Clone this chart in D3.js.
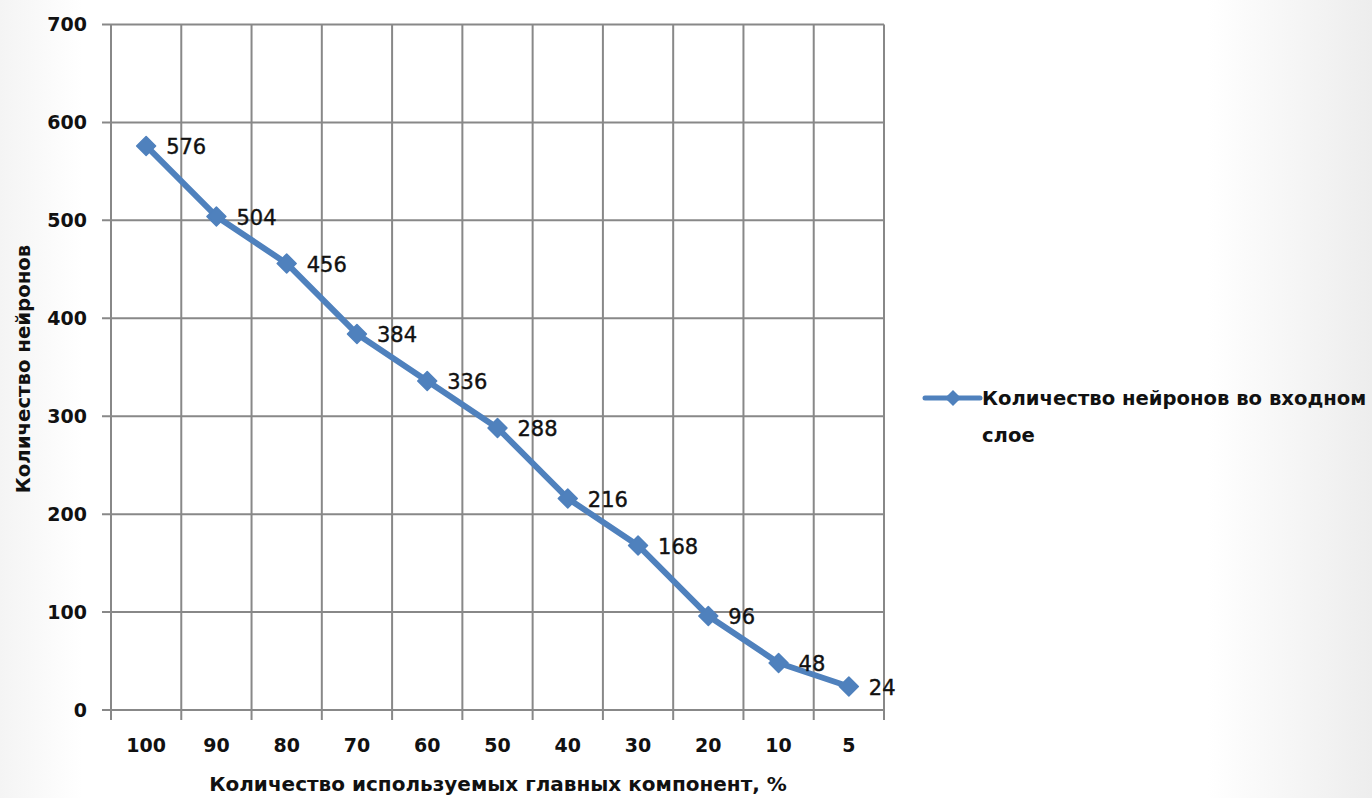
<!DOCTYPE html>
<html>
<head>
<meta charset="utf-8">
<script src="https://cdn.jsdelivr.net/npm/d3@7"></script>
<style>
  html, body { margin: 0; padding: 0; }
  body { width: 1372px; height: 798px; overflow: hidden; }
  svg { display: block; }
</style>
</head>
<body>
<svg id="chart" width="1372" height="798"></svg>
<script>
// Share of principal components used, % (category axis)
const categories = ["100", "90", "80", "70", "60", "50", "40", "30", "20", "10", "5"];
// Neurons in the input layer for each share
const neurons = [576, 504, 456, 384, 336, 288, 216, 168, 96, 48, 24];
const yTicks = [0, 100, 200, 300, 400, 500, 600, 700];
const seriesName = ["Количество нейронов во входном", "слое"];
const xTitle = "Количество используемых главных компонент, %";
const yTitle = "Количество нейронов";

const W = 1372, H = 798;
const plot = { left: 111, right: 884, top: 24.5, bottom: 710 };
const lineColor = "#4f81bd";
const gridColor = "#888888";
const font = "'DejaVu Sans', 'Open Sans', sans-serif";

const svg = d3.select("#chart");

// soft page background
const defs = svg.append("defs");
const bg = defs.append("linearGradient").attr("id", "bg").attr("x1", 0).attr("x2", 1).attr("y1", 0).attr("y2", 0);
bg.append("stop").attr("offset", "0").attr("stop-color", "#f4f4f4");
bg.append("stop").attr("offset", "0.06").attr("stop-color", "#ffffff");
bg.append("stop").attr("offset", "0.88").attr("stop-color", "#ffffff");
bg.append("stop").attr("offset", "1").attr("stop-color", "#ededed");
svg.append("rect").attr("width", W).attr("height", H).attr("fill", "url(#bg)");

const x = d3.scaleBand().domain(categories).range([plot.left, plot.right]).paddingInner(0).paddingOuter(0);
const y = d3.scaleLinear().domain([0, 700]).range([plot.bottom, plot.top]);

// horizontal gridlines with small ticks on the left
svg.append("g").selectAll("line").data(yTicks).join("line")
  .attr("x1", plot.left - 9).attr("x2", plot.right)
  .attr("y1", d => y(d)).attr("y2", d => y(d))
  .attr("stroke", gridColor).attr("stroke-width", 2);

// vertical gridlines at category boundaries, extending below the axis as ticks
const bounds = categories.map(c => x(c)).concat([plot.right]);
svg.append("g").selectAll("line").data(bounds).join("line")
  .attr("x1", d => d).attr("x2", d => d)
  .attr("y1", plot.top).attr("y2", plot.bottom + 10)
  .attr("stroke", gridColor).attr("stroke-width", 2);

// y tick labels
svg.append("g").selectAll("text").data(yTicks).join("text")
  .attr("x", 87).attr("y", d => y(d))
  .attr("dy", "0.35em").attr("text-anchor", "end")
  .attr("font-family", font).attr("font-weight", "bold").attr("font-size", 19)
  .attr("fill", "#111").text(d => d);

// x tick labels
svg.append("g").selectAll("text").data(categories).join("text")
  .attr("x", d => x(d) + x.bandwidth() / 2).attr("y", 745)
  .attr("dy", "0.35em").attr("text-anchor", "middle")
  .attr("font-family", font).attr("font-weight", "bold").attr("font-size", 19)
  .attr("fill", "#111").text(d => d);

// axis titles
svg.append("text")
  .attr("x", 498).attr("y", 784).attr("dy", "0.35em").attr("text-anchor", "middle")
  .attr("font-family", font).attr("font-weight", "bold").attr("font-size", 20)
  .attr("fill", "#111").text(xTitle);
svg.append("text")
  .attr("transform", "translate(23,369) rotate(-90)")
  .attr("dy", "0.35em").attr("text-anchor", "middle")
  .attr("font-family", font).attr("font-weight", "bold").attr("font-size", 19.7)
  .attr("fill", "#111").text(yTitle);

// series line
const cx = (d, i) => x(categories[i]) + x.bandwidth() / 2;
const line = d3.line().x(cx).y(d => y(d));
svg.append("path").datum(neurons)
  .attr("d", line).attr("fill", "none")
  .attr("stroke", lineColor).attr("stroke-width", 6).attr("stroke-linejoin", "round");

// diamond markers
svg.append("g").selectAll("path").data(neurons).join("path")
  .attr("transform", (d, i) => `translate(${cx(d, i)},${y(d)}) rotate(45)`)
  .attr("d", d3.symbol().type(d3.symbolSquare).size(180))
  .attr("fill", lineColor).attr("stroke", lineColor).attr("stroke-width", 1.5)
  .attr("stroke-linejoin", "round");

// value labels to the right of each point
svg.append("g").selectAll("text").data(neurons).join("text")
  .attr("x", (d, i) => cx(d, i) + 20).attr("y", d => y(d) + 1)
  .attr("dy", "0.35em")
  .attr("font-family", font).attr("font-weight", "normal").attr("font-size", 21)
  .attr("stroke", "#111").attr("stroke-width", 0.4)
  .attr("fill", "#111").text(d => d);

// legend
const lg = svg.append("g");
lg.append("line").attr("x1", 925).attr("x2", 980).attr("y1", 398).attr("y2", 398)
  .attr("stroke", lineColor).attr("stroke-width", 5).attr("stroke-linecap", "round");
lg.append("path").attr("transform", "translate(953,398) rotate(45)")
  .attr("d", d3.symbol().type(d3.symbolSquare).size(130))
  .attr("fill", lineColor);
lg.selectAll("text").data(seriesName).join("text")
  .attr("x", 982).attr("y", (d, i) => 398 + i * 37)
  .attr("dy", "0.35em")
  .attr("font-family", font).attr("font-weight", "bold").attr("font-size", 19.6)
  .attr("fill", "#111").text(d => d);
</script>
</body>
</html>
